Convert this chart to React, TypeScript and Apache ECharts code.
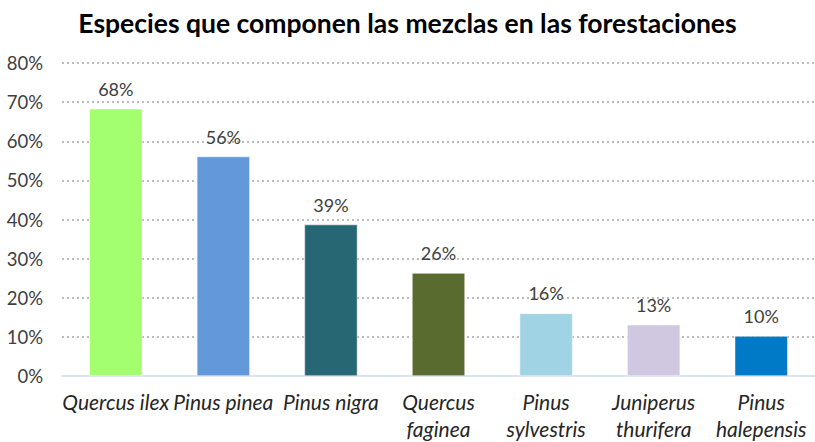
import React, { useEffect, useRef } from "react";
import * as echarts from "echarts";

const title = "Especies que componen las mezclas en las forestaciones";
const categories = [
  "Quercus ilex",
  "Pinus pinea",
  "Pinus nigra",
  "Quercus\nfaginea",
  "Pinus\nsylvestris",
  "Juniperus\nthurifera",
  "Pinus\nhalepensis",
];
const values = [68.3, 56.1, 38.7, 26.3, 16.0, 13.1, 10.2];
const colors = ["#a3ff6f", "#6399da", "#276673", "#5a6b30", "#a0d3e3", "#d0c7e0", "#0079c6"];
const yTicks = [0, 10, 20, 30, 40, 50, 60, 70, 80];

export default function App() {
  const ref = useRef<HTMLDivElement>(null);
  useEffect(() => {
    if (!ref.current) return;
    const chart = echarts.init(ref.current, null, { renderer: "svg" });
    chart.setOption({
      animation: false,
      backgroundColor: "#ffffff",
      title: {
        text: title,
        left: "center",
        top: 4,
        textStyle: { fontFamily: "Lato", fontWeight: "bold", fontSize: 26.5, color: "#000000" },
      },
      grid: { left: 62, right: 0, top: 63, bottom: 63, containLabel: false },
      xAxis: {
        type: "category",
        data: categories,
        axisTick: { show: false },
        axisLine: { lineStyle: { color: "#d9e4f2", width: 2 } },
        axisLabel: {
          fontFamily: "Lato",
          fontStyle: "italic",
          fontSize: 21,
          color: "#262626",
          lineHeight: 27,
          margin: 12,
          interval: 0,
        },
      },
      yAxis: {
        type: "value",
        min: yTicks[0],
        max: yTicks[yTicks.length - 1],
        interval: 10,
        axisLine: { show: false },
        axisTick: { show: false },
        axisLabel: {
          formatter: (v: number) => `${v}%`,
          fontFamily: "Lato",
          fontSize: 18.5,
          color: "#404040",
          margin: 19,
        },
        splitLine: { lineStyle: { color: "#a6a6a6", type: [2, 3], width: 1.5 } },
      },
      series: [
        {
          type: "bar",
          barWidth: 53,
          data: values.map((v, i) => ({
            value: v,
            itemStyle: { color: colors[i], borderColor: "#ffffff", borderWidth: 0.5 },
          })),
          label: {
            show: true,
            position: "top",
            distance: 11,
            formatter: (p: any) => `${Math.round(p.value)}%`,
            fontFamily: "Lato",
            fontSize: 18,
            color: "#404040",
          },
        },
      ],
    });
    return () => chart.dispose();
  }, []);
  return <div ref={ref} style={{ width: 815, height: 442, position: "absolute", left: 0, top: 0 }} />;
}
